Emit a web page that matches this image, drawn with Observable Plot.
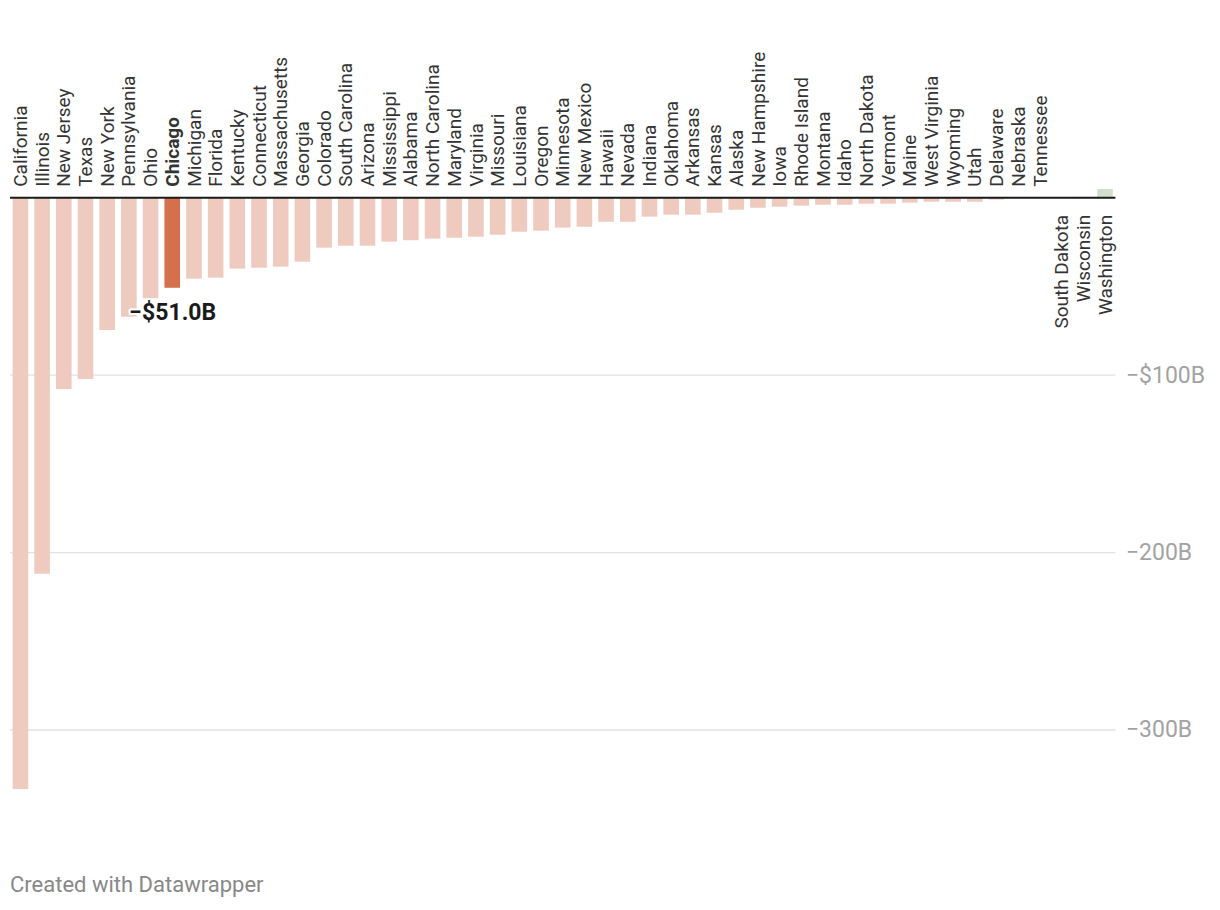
<!DOCTYPE html>
<html>
<head>
<meta charset="utf-8">
<script src="https://cdn.jsdelivr.net/npm/d3@7"></script>
<script src="https://cdn.jsdelivr.net/npm/@observablehq/plot@0.6"></script>
<style>
  body { margin: 0; background: #fff; font-family: Roboto, sans-serif; }
  #chart { position: absolute; left: 0; top: 0; }
  #caption { position: absolute; left: 10px; top: 874px; font-size: 22px; line-height: 22px; color: #888; font-family: Roboto, sans-serif; }
</style>
</head>
<body>
<div id="chart"></div>
<div id="caption">Created with Datawrapper</div>
<script>
// Categories (left to right)
const states = [
  "California", "Illinois", "New Jersey", "Texas", "New York", "Pennsylvania", "Ohio", "Chicago",
  "Michigan", "Florida", "Kentucky", "Connecticut", "Massachusetts", "Georgia", "Colorado",
  "South Carolina", "Arizona", "Mississippi", "Alabama", "North Carolina", "Maryland", "Virginia",
  "Missouri", "Louisiana", "Oregon", "Minnesota", "New Mexico", "Hawaii", "Nevada", "Indiana",
  "Oklahoma", "Arkansas", "Kansas", "Alaska", "New Hampshire", "Iowa", "Rhode Island", "Montana",
  "Idaho", "North Dakota", "Vermont", "Maine", "West Virginia", "Wyoming", "Utah", "Delaware",
  "Nebraska", "Tennessee", "South Dakota", "Wisconsin", "Washington"
];
// Values in billions of dollars
const values = [
  -333.5, -212.2, -108.1, -102.4, -74.8, -67.3, -56.9, -51.0,
  -45.9, -45.3, -40.2, -39.7, -39.1, -36.3, -28.4,
  -27.3, -27.3, -25.0, -24.2, -23.3, -22.8, -22.2,
  -21.1, -19.4, -18.8, -17.1, -16.6, -13.8, -13.8, -10.9,
  -9.8, -9.8, -8.7, -7.0, -5.9, -5.3, -4.7, -4.2,
  -4.2, -3.6, -3.6, -3.0, -2.5, -2.5, -2.5, -1.3,
  -0.4, -0.1, 0.1, 0.2, 4.7
];
const highlight = "Chicago";
const tickValues = [-100, -200, -300];
const tickLabels = ["\u2212$100B", "\u2212200B", "\u2212300B"];
const annotationText = "\u2212$51.0B";

const data = states.map((s, i) => ({state: s, value: values[i]}));
const colorOf = d => d.state === highlight ? "#d4704c" : (d.value > 0 ? "#d3dfcc" : "#efcbbf");
const above = data.filter(d => d.value <= 0 && d.state !== highlight);
const aboveBold = data.filter(d => d.state === highlight);
const below = data.filter(d => d.value > 0);
const ticks = tickValues.map((v, i) => ({v, label: tickLabels[i]}));

const chart = Plot.plot({
  width: 1220,
  height: 830,
  marginLeft: 10,
  marginRight: 104.6,
  marginTop: 179.56,
  marginBottom: 29.54,
  style: {fontFamily: "Roboto, sans-serif", background: "#fff"},
  x: {domain: states, paddingInner: 0.28, paddingOuter: 0.12, axis: null},
  y: {domain: [-340, 10], axis: null},
  color: {type: "identity"},
  marks: [
    Plot.ruleY(ticks, {y: "v", stroke: "#e2e2e2", strokeWidth: 1.3}),
    Plot.text(ticks, {y: "v", text: "label", frameAnchor: "right", dx: 10, textAnchor: "start", fontSize: 23, fill: "#a3a3a3"}),
    Plot.barY(data, {x: "state", y: "value", fill: colorOf}),
    Plot.ruleY([0], {stroke: "#1a1a1a", strokeWidth: 2}),
    Plot.text(above, {x: "state", y: () => 0, text: "state", rotate: -90, textAnchor: "start", dy: -11, fontSize: 19, fill: "#333"}),
    Plot.text(aboveBold, {x: "state", y: () => 0, text: "state", rotate: -90, textAnchor: "start", dy: -11, fontSize: 19, fontWeight: "bold", fill: "#333"}),
    Plot.text(below, {x: "state", y: () => 0, text: "state", rotate: -90, textAnchor: "end", dy: 17, fontSize: 19, fill: "#333"}),
    Plot.text(aboveBold, {x: "state", y: "value", text: () => annotationText, dy: 24, fontSize: 23, fontWeight: "bold", fill: "#1a1a1a", stroke: "white", strokeWidth: 4, paintOrder: "stroke"})
  ]
});
document.getElementById("chart").appendChild(chart);
</script>
</body>
</html>
